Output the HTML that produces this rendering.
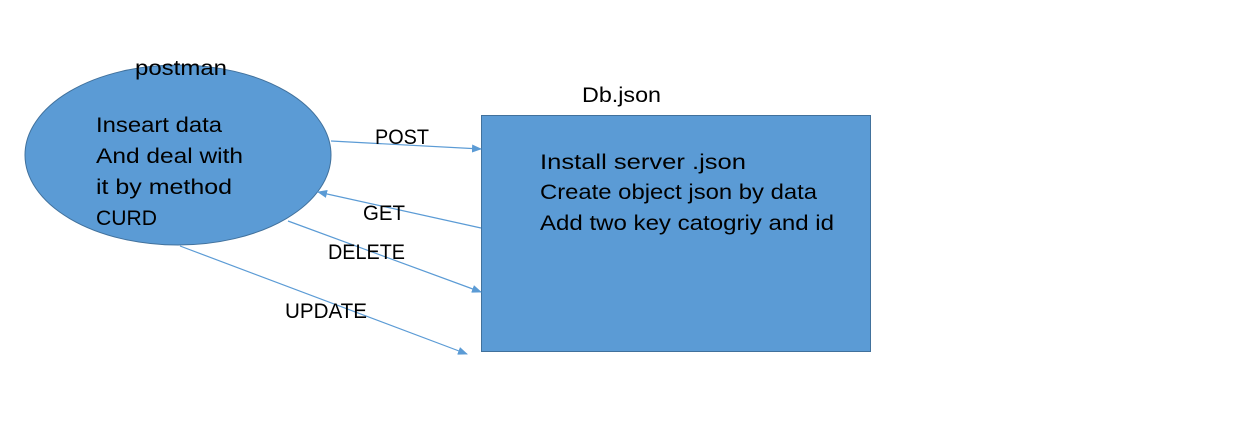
<!DOCTYPE html>
<html><head><meta charset="utf-8"><style>
html,body{margin:0;padding:0;background:#fff;}
svg text{font-family:"Liberation Sans",sans-serif;fill:#000;}
</style></head><body>
<svg width="1239" height="425" viewBox="0 0 1239 425" xmlns="http://www.w3.org/2000/svg">
<defs>
<marker id="a" markerWidth="10" markerHeight="8" refX="9" refY="4" orient="auto" markerUnits="userSpaceOnUse">
<path d="M0,0 L10,4 L0,8 z" fill="#5b9bd5"/></marker>
</defs>
<ellipse cx="178" cy="155" rx="153" ry="90" fill="#5b9bd5" stroke="#41719c" stroke-width="1"/>
<rect x="481.5" y="115.5" width="389" height="236" fill="#5b9bd5" stroke="#41719c" stroke-width="1"/>
<g stroke="#5b9bd5" stroke-width="1.2" fill="none">
<line x1="331" y1="141" x2="481" y2="149" marker-end="url(#a)"/>
<line x1="481" y1="228" x2="318" y2="192" marker-end="url(#a)"/>
<line x1="288" y1="221" x2="481" y2="292" marker-end="url(#a)"/>
<line x1="180" y1="246" x2="467" y2="354" marker-end="url(#a)"/>
</g>
<g font-size="21" lengthAdjust="spacingAndGlyphs">
<text x="135" y="75" textLength="92" lengthAdjust="spacingAndGlyphs">postman</text>
<text x="96" y="132" textLength="126" lengthAdjust="spacingAndGlyphs">Inseart data</text>
<text x="96" y="163" textLength="147" lengthAdjust="spacingAndGlyphs">And deal with</text>
<text x="96" y="194" textLength="136" lengthAdjust="spacingAndGlyphs">it by method</text>
<text x="96" y="225" textLength="61" lengthAdjust="spacingAndGlyphs">CURD</text>
<text x="582" y="102" textLength="79" lengthAdjust="spacingAndGlyphs">Db.json</text>
<text x="540" y="169" textLength="206" lengthAdjust="spacingAndGlyphs">Install server .json</text>
<text x="540" y="199" textLength="277" lengthAdjust="spacingAndGlyphs">Create object json by data</text>
<text x="540" y="230" textLength="294" lengthAdjust="spacingAndGlyphs">Add two key catogriy and id</text>
<text x="375" y="144" textLength="54" lengthAdjust="spacingAndGlyphs">POST</text>
<text x="363" y="220" textLength="42" lengthAdjust="spacingAndGlyphs">GET</text>
<text x="328" y="259" textLength="77" lengthAdjust="spacingAndGlyphs">DELETE</text>
<text x="285" y="318" textLength="82" lengthAdjust="spacingAndGlyphs">UPDATE</text>
</g>
</svg>
</body></html>
